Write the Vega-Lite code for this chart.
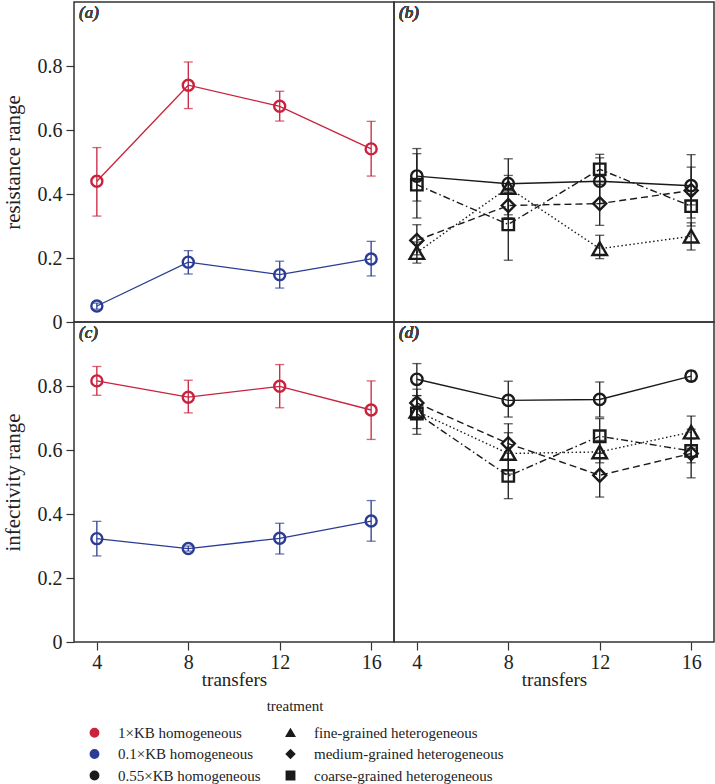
{
  "$schema": "https://vega.github.io/schema/vega-lite/v6.json",
  "background": "white",
  "padding": {"left": 1, "top": 1, "right": 0, "bottom": 0},
  "columns": 2,
  "spacing": 0,
  "bounds": "flush",
  "data": {"values": [
    {"panel":"a","treatment":"1×KB homogeneous","transfers":4,"mean":0.44,"lo":0.331,"hi":0.545},
    {"panel":"a","treatment":"1×KB homogeneous","transfers":8,"mean":0.74,"lo":0.667,"hi":0.8125},
    {"panel":"a","treatment":"1×KB homogeneous","transfers":12,"mean":0.674,"lo":0.628,"hi":0.721},
    {"panel":"a","treatment":"1×KB homogeneous","transfers":16,"mean":0.541,"lo":0.456,"hi":0.627},
    {"panel":"a","treatment":"0.1×KB homogeneous","transfers":4,"mean":0.05,"lo":0.04,"hi":0.059},
    {"panel":"a","treatment":"0.1×KB homogeneous","transfers":8,"mean":0.187,"lo":0.15,"hi":0.223},
    {"panel":"a","treatment":"0.1×KB homogeneous","transfers":12,"mean":0.148,"lo":0.106,"hi":0.19},
    {"panel":"a","treatment":"0.1×KB homogeneous","transfers":16,"mean":0.197,"lo":0.144,"hi":0.252},
    {"panel":"b","treatment":"0.55×KB homogeneous","transfers":4,"mean":0.456,"lo":0.378,"hi":0.526},
    {"panel":"b","treatment":"0.55×KB homogeneous","transfers":8,"mean":0.432,"lo":0.41,"hi":0.458},
    {"panel":"b","treatment":"0.55×KB homogeneous","transfers":12,"mean":0.44,"lo":0.37,"hi":0.513},
    {"panel":"b","treatment":"0.55×KB homogeneous","transfers":16,"mean":0.426,"lo":0.366,"hi":0.484},
    {"panel":"b","treatment":"fine-grained heterogeneous","transfers":4,"mean":0.217,"lo":0.184,"hi":0.25},
    {"panel":"b","treatment":"fine-grained heterogeneous","transfers":8,"mean":0.42,"lo":0.335,"hi":0.51},
    {"panel":"b","treatment":"fine-grained heterogeneous","transfers":12,"mean":0.229,"lo":0.198,"hi":0.271},
    {"panel":"b","treatment":"fine-grained heterogeneous","transfers":16,"mean":0.268,"lo":0.225,"hi":0.31},
    {"panel":"b","treatment":"medium-grained heterogeneous","transfers":4,"mean":0.255,"lo":0.21,"hi":0.304},
    {"panel":"b","treatment":"medium-grained heterogeneous","transfers":8,"mean":0.364,"lo":0.325,"hi":0.405},
    {"panel":"b","treatment":"medium-grained heterogeneous","transfers":12,"mean":0.37,"lo":0.302,"hi":0.438},
    {"panel":"b","treatment":"medium-grained heterogeneous","transfers":16,"mean":0.411,"lo":0.3,"hi":0.523},
    {"panel":"b","treatment":"coarse-grained heterogeneous","transfers":4,"mean":0.429,"lo":0.325,"hi":0.542},
    {"panel":"b","treatment":"coarse-grained heterogeneous","transfers":8,"mean":0.305,"lo":0.193,"hi":0.417},
    {"panel":"b","treatment":"coarse-grained heterogeneous","transfers":12,"mean":0.477,"lo":0.43,"hi":0.524},
    {"panel":"b","treatment":"coarse-grained heterogeneous","transfers":16,"mean":0.362,"lo":0.325,"hi":0.4},
    {"panel":"c","treatment":"1×KB homogeneous","transfers":4,"mean":0.816,"lo":0.771,"hi":0.861},
    {"panel":"c","treatment":"1×KB homogeneous","transfers":8,"mean":0.765,"lo":0.716,"hi":0.818},
    {"panel":"c","treatment":"1×KB homogeneous","transfers":12,"mean":0.799,"lo":0.732,"hi":0.867},
    {"panel":"c","treatment":"1×KB homogeneous","transfers":16,"mean":0.725,"lo":0.633,"hi":0.816},
    {"panel":"c","treatment":"0.1×KB homogeneous","transfers":4,"mean":0.323,"lo":0.269,"hi":0.377},
    {"panel":"c","treatment":"0.1×KB homogeneous","transfers":8,"mean":0.292,"lo":0.284,"hi":0.3},
    {"panel":"c","treatment":"0.1×KB homogeneous","transfers":12,"mean":0.324,"lo":0.275,"hi":0.371},
    {"panel":"c","treatment":"0.1×KB homogeneous","transfers":16,"mean":0.378,"lo":0.315,"hi":0.442},
    {"panel":"d","treatment":"0.55×KB homogeneous","transfers":4,"mean":0.821,"lo":0.77,"hi":0.87},
    {"panel":"d","treatment":"0.55×KB homogeneous","transfers":8,"mean":0.755,"lo":0.703,"hi":0.815},
    {"panel":"d","treatment":"0.55×KB homogeneous","transfers":12,"mean":0.758,"lo":0.703,"hi":0.8125},
    {"panel":"d","treatment":"0.55×KB homogeneous","transfers":16,"mean":0.831,"lo":0.815,"hi":0.847},
    {"panel":"d","treatment":"fine-grained heterogeneous","transfers":4,"mean":0.721,"lo":0.667,"hi":0.77},
    {"panel":"d","treatment":"fine-grained heterogeneous","transfers":8,"mean":0.589,"lo":0.525,"hi":0.654},
    {"panel":"d","treatment":"fine-grained heterogeneous","transfers":12,"mean":0.594,"lo":0.56,"hi":0.63},
    {"panel":"d","treatment":"fine-grained heterogeneous","transfers":16,"mean":0.656,"lo":0.605,"hi":0.706},
    {"panel":"d","treatment":"medium-grained heterogeneous","transfers":4,"mean":0.747,"lo":0.7,"hi":0.79},
    {"panel":"d","treatment":"medium-grained heterogeneous","transfers":8,"mean":0.62,"lo":0.57,"hi":0.682},
    {"panel":"d","treatment":"medium-grained heterogeneous","transfers":12,"mean":0.521,"lo":0.453,"hi":0.59},
    {"panel":"d","treatment":"medium-grained heterogeneous","transfers":16,"mean":0.589,"lo":0.513,"hi":0.665},
    {"panel":"d","treatment":"coarse-grained heterogeneous","transfers":4,"mean":0.714,"lo":0.649,"hi":0.76},
    {"panel":"d","treatment":"coarse-grained heterogeneous","transfers":8,"mean":0.519,"lo":0.448,"hi":0.59},
    {"panel":"d","treatment":"coarse-grained heterogeneous","transfers":12,"mean":0.643,"lo":0.59,"hi":0.698},
    {"panel":"d","treatment":"coarse-grained heterogeneous","transfers":16,"mean":0.597,"lo":0.56,"hi":0.635}
  ]},
  "concat": [
    {
      "width": 320, "height": 320,
      "transform": [{"filter": "datum.panel === 'a'"}],
      "encoding": {"x": {"field": "transfers", "type": "quantitative", "scale": {"domain": [3, 17], "nice": false, "zero": false}, "axis": null}},
      "layer": [
        {"mark": {"type": "point", "size": 121, "filled": false, "strokeWidth": 2.4, "opacity": 1},
         "encoding": {
           "y": {"field": "mean", "type": "quantitative", "scale": {"domain": [0, 1], "nice": false}, "axis": {"title": "resistance range", "values": [0, 0.2, 0.4, 0.6, 0.8], "format": "~g"}},
           "color": {"field": "treatment", "type": "nominal", "scale": {"domain": ["1×KB homogeneous","0.1×KB homogeneous","0.55×KB homogeneous","fine-grained heterogeneous","medium-grained heterogeneous","coarse-grained heterogeneous"], "range": ["#c9223d","#2b3c94","#1a1a1a","#1a1a1a","#1a1a1a","#1a1a1a"]},
             "legend": {"title": "treatment", "orient": "none", "legendX": 13, "legendY": 697, "direction": "vertical", "columns": 2, "symbolSize": 70, "symbolStrokeWidth": 1.5, "symbolOpacity": 1, "labelOffset": 16, "labelLimit": 0, "columnPadding": 22, "rowPadding": 5.5, "titleAnchor": "middle", "titlePadding": 11,
               "encode": {"symbols": {
                 "fill": {"value": "transparent"},
                 "strokeWidth": {"value": 1.5},
                 "opacity": {"value": 1}
               }}}},
           "shape": {"field": "treatment", "type": "nominal", "scale": {"domain": ["1×KB homogeneous","0.1×KB homogeneous","0.55×KB homogeneous","fine-grained heterogeneous","medium-grained heterogeneous","coarse-grained heterogeneous"], "range": ["circle","circle","circle","triangle-up","diamond","square"]}}}},
        {"mark": {"type": "errorbar", "ticks": {"size": 9}, "thickness": 1.3},
         "encoding": {
           "y": {"field": "lo", "type": "quantitative", "scale": {"domain": [0, 1], "nice": false}, "axis": {"title": "resistance range", "values": [0, 0.2, 0.4, 0.6, 0.8], "format": "~g"}},
           "y2": {"field": "hi"},
           "color": {"field": "treatment", "type": "nominal", "scale": {"domain": ["1×KB homogeneous","0.1×KB homogeneous","0.55×KB homogeneous","fine-grained heterogeneous","medium-grained heterogeneous","coarse-grained heterogeneous"], "range": ["#c9223d","#2b3c94","#1a1a1a","#1a1a1a","#1a1a1a","#1a1a1a"]}}}},
        {"mark": {"type": "line", "strokeWidth": 1.3},
         "encoding": {
           "y": {"field": "mean", "type": "quantitative", "scale": {"domain": [0, 1], "nice": false}, "axis": {"title": "resistance range", "values": [0, 0.2, 0.4, 0.6, 0.8], "format": "~g"}},
           "color": {"field": "treatment", "type": "nominal", "scale": {"domain": ["1×KB homogeneous","0.1×KB homogeneous","0.55×KB homogeneous","fine-grained heterogeneous","medium-grained heterogeneous","coarse-grained heterogeneous"], "range": ["#c9223d","#2b3c94","#1a1a1a","#1a1a1a","#1a1a1a","#1a1a1a"]}}}},
        {"mark": {"type": "text", "align": "left", "baseline": "top", "dx": 5, "dy": 3, "font": "Liberation Serif", "fontSize": 17, "fontStyle": "italic", "fontWeight": "normal", "color": "#444444"},
         "encoding": {"x": {"datum": 3}, "y": {"datum": 1, "type": "quantitative", "axis": {"title": "resistance range", "values": [0, 0.2, 0.4, 0.6, 0.8], "format": "~g"}}, "text": {"value": "(a)"}}}
      ]
    },
    {
      "width": 320, "height": 320,
      "transform": [{"filter": "datum.panel === 'b'"}],
      "encoding": {"x": {"field": "transfers", "type": "quantitative", "scale": {"domain": [3, 17], "nice": false, "zero": false}, "axis": null}},
      "layer": [
        {"mark": {"type": "errorbar", "ticks": {"size": 9}, "thickness": 1.3},
         "encoding": {
           "y": {"field": "lo", "type": "quantitative", "scale": {"domain": [0, 1], "nice": false}, "axis": null},
           "y2": {"field": "hi"},
           "color": {"field": "treatment", "type": "nominal", "scale": {"domain": ["1×KB homogeneous","0.1×KB homogeneous","0.55×KB homogeneous","fine-grained heterogeneous","medium-grained heterogeneous","coarse-grained heterogeneous"], "range": ["#c9223d","#2b3c94","#1a1a1a","#1a1a1a","#1a1a1a","#1a1a1a"]}}}},
        {"transform": [{"filter": "datum.treatment === '0.55×KB homogeneous'"}], "mark": {"type": "line", "strokeWidth": 1.4, "color": "#1a1a1a"},
         "encoding": {"y": {"field": "mean", "type": "quantitative", "scale": {"domain": [0, 1], "nice": false}, "axis": null}}},
        {"transform": [{"filter": "datum.treatment === 'fine-grained heterogeneous'"}], "mark": {"type": "line", "strokeWidth": 1.4, "color": "#1a1a1a", "strokeDash": [1.5, 2.5]},
         "encoding": {"y": {"field": "mean", "type": "quantitative", "scale": {"domain": [0, 1], "nice": false}, "axis": null}}},
        {"transform": [{"filter": "datum.treatment === 'medium-grained heterogeneous'"}], "mark": {"type": "line", "strokeWidth": 1.4, "color": "#1a1a1a", "strokeDash": [7, 4]},
         "encoding": {"y": {"field": "mean", "type": "quantitative", "scale": {"domain": [0, 1], "nice": false}, "axis": null}}},
        {"transform": [{"filter": "datum.treatment === 'coarse-grained heterogeneous'"}], "mark": {"type": "line", "strokeWidth": 1.4, "color": "#1a1a1a", "strokeDash": [7, 3, 1.5, 3]},
         "encoding": {"y": {"field": "mean", "type": "quantitative", "scale": {"domain": [0, 1], "nice": false}, "axis": null}}},
        {"transform": [{"filter": "datum.treatment === '0.55×KB homogeneous'"}], "mark": {"type": "point", "size": 130, "filled": false, "strokeWidth": 2.4, "opacity": 1, "color": "#1a1a1a"},
         "encoding": {"y": {"field": "mean", "type": "quantitative", "scale": {"domain": [0, 1], "nice": false}, "axis": null},
           "shape": {"field": "treatment", "type": "nominal", "scale": {"domain": ["1×KB homogeneous","0.1×KB homogeneous","0.55×KB homogeneous","fine-grained heterogeneous","medium-grained heterogeneous","coarse-grained heterogeneous"], "range": ["circle","circle","circle","triangle-up","diamond","square"]}}}},
        {"transform": [{"filter": "datum.treatment === 'fine-grained heterogeneous'"}], "mark": {"type": "point", "size": 210, "filled": false, "strokeWidth": 2.4, "opacity": 1, "color": "#1a1a1a"},
         "encoding": {"y": {"field": "mean", "type": "quantitative", "scale": {"domain": [0, 1], "nice": false}, "axis": null},
           "shape": {"field": "treatment", "type": "nominal", "scale": {"domain": ["1×KB homogeneous","0.1×KB homogeneous","0.55×KB homogeneous","fine-grained heterogeneous","medium-grained heterogeneous","coarse-grained heterogeneous"], "range": ["circle","circle","circle","triangle-up","diamond","square"]}}}},
        {"transform": [{"filter": "datum.treatment === 'medium-grained heterogeneous'"}], "mark": {"type": "point", "size": 170, "filled": false, "strokeWidth": 2.4, "opacity": 1, "color": "#1a1a1a"},
         "encoding": {"y": {"field": "mean", "type": "quantitative", "scale": {"domain": [0, 1], "nice": false}, "axis": null},
           "shape": {"field": "treatment", "type": "nominal", "scale": {"domain": ["1×KB homogeneous","0.1×KB homogeneous","0.55×KB homogeneous","fine-grained heterogeneous","medium-grained heterogeneous","coarse-grained heterogeneous"], "range": ["circle","circle","circle","triangle-up","diamond","square"]}}}},
        {"transform": [{"filter": "datum.treatment === 'coarse-grained heterogeneous'"}], "mark": {"type": "point", "size": 130, "filled": false, "strokeWidth": 2.4, "opacity": 1, "color": "#1a1a1a"},
         "encoding": {"y": {"field": "mean", "type": "quantitative", "scale": {"domain": [0, 1], "nice": false}, "axis": null},
           "shape": {"field": "treatment", "type": "nominal", "scale": {"domain": ["1×KB homogeneous","0.1×KB homogeneous","0.55×KB homogeneous","fine-grained heterogeneous","medium-grained heterogeneous","coarse-grained heterogeneous"], "range": ["circle","circle","circle","triangle-up","diamond","square"]}}}},
        {"mark": {"type": "text", "align": "left", "baseline": "top", "dx": 5, "dy": 3, "font": "Liberation Serif", "fontSize": 17, "fontStyle": "italic", "fontWeight": "normal", "color": "#444444"},
         "encoding": {"x": {"datum": 3}, "y": {"datum": 1, "type": "quantitative", "axis": null}, "text": {"value": "(b)"}}}
      ]
    },
    {
      "width": 320, "height": 320,
      "transform": [{"filter": "datum.panel === 'c'"}],
      "encoding": {"x": {"field": "transfers", "type": "quantitative", "scale": {"domain": [3, 17], "nice": false, "zero": false}, "axis": {"title": "transfers", "values": [4, 8, 12, 16]}}},
      "layer": [
        {"mark": {"type": "errorbar", "ticks": {"size": 9}, "thickness": 1.3},
         "encoding": {
           "y": {"field": "lo", "type": "quantitative", "scale": {"domain": [0, 1], "nice": false}, "axis": {"title": "infectivity range", "values": [0, 0.2, 0.4, 0.6, 0.8], "format": "~g"}},
           "y2": {"field": "hi"},
           "color": {"field": "treatment", "type": "nominal", "scale": {"domain": ["1×KB homogeneous","0.1×KB homogeneous","0.55×KB homogeneous","fine-grained heterogeneous","medium-grained heterogeneous","coarse-grained heterogeneous"], "range": ["#c9223d","#2b3c94","#1a1a1a","#1a1a1a","#1a1a1a","#1a1a1a"]}}}},
        {"mark": {"type": "line", "strokeWidth": 1.3},
         "encoding": {
           "y": {"field": "mean", "type": "quantitative", "scale": {"domain": [0, 1], "nice": false}, "axis": {"title": "infectivity range", "values": [0, 0.2, 0.4, 0.6, 0.8], "format": "~g"}},
           "color": {"field": "treatment", "type": "nominal", "scale": {"domain": ["1×KB homogeneous","0.1×KB homogeneous","0.55×KB homogeneous","fine-grained heterogeneous","medium-grained heterogeneous","coarse-grained heterogeneous"], "range": ["#c9223d","#2b3c94","#1a1a1a","#1a1a1a","#1a1a1a","#1a1a1a"]}}}},
        {"mark": {"type": "point", "size": 121, "filled": false, "strokeWidth": 2.4, "opacity": 1},
         "encoding": {
           "y": {"field": "mean", "type": "quantitative", "scale": {"domain": [0, 1], "nice": false}, "axis": {"title": "infectivity range", "values": [0, 0.2, 0.4, 0.6, 0.8], "format": "~g"}},
           "color": {"field": "treatment", "type": "nominal", "scale": {"domain": ["1×KB homogeneous","0.1×KB homogeneous","0.55×KB homogeneous","fine-grained heterogeneous","medium-grained heterogeneous","coarse-grained heterogeneous"], "range": ["#c9223d","#2b3c94","#1a1a1a","#1a1a1a","#1a1a1a","#1a1a1a"]}},
           "shape": {"field": "treatment", "type": "nominal", "scale": {"domain": ["1×KB homogeneous","0.1×KB homogeneous","0.55×KB homogeneous","fine-grained heterogeneous","medium-grained heterogeneous","coarse-grained heterogeneous"], "range": ["circle","circle","circle","triangle-up","diamond","square"]}}}},
        {"mark": {"type": "text", "align": "left", "baseline": "top", "dx": 5, "dy": 3, "font": "Liberation Serif", "fontSize": 17, "fontStyle": "italic", "fontWeight": "normal", "color": "#444444"},
         "encoding": {"x": {"datum": 3}, "y": {"datum": 1, "type": "quantitative", "axis": {"title": "infectivity range", "values": [0, 0.2, 0.4, 0.6, 0.8], "format": "~g"}}, "text": {"value": "(c)"}}}
      ]
    },
    {
      "width": 320, "height": 320,
      "transform": [{"filter": "datum.panel === 'd'"}],
      "encoding": {"x": {"field": "transfers", "type": "quantitative", "scale": {"domain": [3, 17], "nice": false, "zero": false}, "axis": {"title": "transfers", "values": [4, 8, 12, 16]}}},
      "layer": [
        {"mark": {"type": "errorbar", "ticks": {"size": 9}, "thickness": 1.3},
         "encoding": {
           "y": {"field": "lo", "type": "quantitative", "scale": {"domain": [0, 1], "nice": false}, "axis": null},
           "y2": {"field": "hi"},
           "color": {"field": "treatment", "type": "nominal", "scale": {"domain": ["1×KB homogeneous","0.1×KB homogeneous","0.55×KB homogeneous","fine-grained heterogeneous","medium-grained heterogeneous","coarse-grained heterogeneous"], "range": ["#c9223d","#2b3c94","#1a1a1a","#1a1a1a","#1a1a1a","#1a1a1a"]}}}},
        {"transform": [{"filter": "datum.treatment === '0.55×KB homogeneous'"}], "mark": {"type": "line", "strokeWidth": 1.4, "color": "#1a1a1a"},
         "encoding": {"y": {"field": "mean", "type": "quantitative", "scale": {"domain": [0, 1], "nice": false}, "axis": null}}},
        {"transform": [{"filter": "datum.treatment === 'fine-grained heterogeneous'"}], "mark": {"type": "line", "strokeWidth": 1.4, "color": "#1a1a1a", "strokeDash": [1.5, 2.5]},
         "encoding": {"y": {"field": "mean", "type": "quantitative", "scale": {"domain": [0, 1], "nice": false}, "axis": null}}},
        {"transform": [{"filter": "datum.treatment === 'medium-grained heterogeneous'"}], "mark": {"type": "line", "strokeWidth": 1.4, "color": "#1a1a1a", "strokeDash": [7, 4]},
         "encoding": {"y": {"field": "mean", "type": "quantitative", "scale": {"domain": [0, 1], "nice": false}, "axis": null}}},
        {"transform": [{"filter": "datum.treatment === 'coarse-grained heterogeneous'"}], "mark": {"type": "line", "strokeWidth": 1.4, "color": "#1a1a1a", "strokeDash": [7, 3, 1.5, 3]},
         "encoding": {"y": {"field": "mean", "type": "quantitative", "scale": {"domain": [0, 1], "nice": false}, "axis": null}}},
        {"transform": [{"filter": "datum.treatment === '0.55×KB homogeneous'"}], "mark": {"type": "point", "size": 130, "filled": false, "strokeWidth": 2.4, "opacity": 1, "color": "#1a1a1a"},
         "encoding": {"y": {"field": "mean", "type": "quantitative", "scale": {"domain": [0, 1], "nice": false}, "axis": null},
           "shape": {"field": "treatment", "type": "nominal", "scale": {"domain": ["1×KB homogeneous","0.1×KB homogeneous","0.55×KB homogeneous","fine-grained heterogeneous","medium-grained heterogeneous","coarse-grained heterogeneous"], "range": ["circle","circle","circle","triangle-up","diamond","square"]}}}},
        {"transform": [{"filter": "datum.treatment === 'fine-grained heterogeneous'"}], "mark": {"type": "point", "size": 210, "filled": false, "strokeWidth": 2.4, "opacity": 1, "color": "#1a1a1a"},
         "encoding": {"y": {"field": "mean", "type": "quantitative", "scale": {"domain": [0, 1], "nice": false}, "axis": null},
           "shape": {"field": "treatment", "type": "nominal", "scale": {"domain": ["1×KB homogeneous","0.1×KB homogeneous","0.55×KB homogeneous","fine-grained heterogeneous","medium-grained heterogeneous","coarse-grained heterogeneous"], "range": ["circle","circle","circle","triangle-up","diamond","square"]}}}},
        {"transform": [{"filter": "datum.treatment === 'medium-grained heterogeneous'"}], "mark": {"type": "point", "size": 170, "filled": false, "strokeWidth": 2.4, "opacity": 1, "color": "#1a1a1a"},
         "encoding": {"y": {"field": "mean", "type": "quantitative", "scale": {"domain": [0, 1], "nice": false}, "axis": null},
           "shape": {"field": "treatment", "type": "nominal", "scale": {"domain": ["1×KB homogeneous","0.1×KB homogeneous","0.55×KB homogeneous","fine-grained heterogeneous","medium-grained heterogeneous","coarse-grained heterogeneous"], "range": ["circle","circle","circle","triangle-up","diamond","square"]}}}},
        {"transform": [{"filter": "datum.treatment === 'coarse-grained heterogeneous'"}], "mark": {"type": "point", "size": 130, "filled": false, "strokeWidth": 2.4, "opacity": 1, "color": "#1a1a1a"},
         "encoding": {"y": {"field": "mean", "type": "quantitative", "scale": {"domain": [0, 1], "nice": false}, "axis": null},
           "shape": {"field": "treatment", "type": "nominal", "scale": {"domain": ["1×KB homogeneous","0.1×KB homogeneous","0.55×KB homogeneous","fine-grained heterogeneous","medium-grained heterogeneous","coarse-grained heterogeneous"], "range": ["circle","circle","circle","triangle-up","diamond","square"]}}}},
        {"mark": {"type": "text", "align": "left", "baseline": "top", "dx": 5, "dy": 3, "font": "Liberation Serif", "fontSize": 17, "fontStyle": "italic", "fontWeight": "normal", "color": "#444444"},
         "encoding": {"x": {"datum": 3}, "y": {"datum": 1, "type": "quantitative", "axis": null}, "text": {"value": "(d)"}}}
      ]
    }
  ],
  "config": {
    "view": {"stroke": "#333333", "strokeWidth": 1.5},
    "axis": {"labelFont": "Liberation Serif", "titleFont": "Liberation Serif", "labelFontSize": 20, "titleFontSize": 19, "titleFontWeight": "normal", "labelColor": "#222222", "titleColor": "#222222", "tickColor": "#333333", "tickSize": 8, "tickWidth": 1.2, "domain": false, "grid": false, "labelPadding": 4},
    "axisY": {"titlePadding": 14, "titleFontSize": 21},
    "axisX": {"titlePadding": -2, "labelPadding": 2},
    "legend": {"labelFont": "Liberation Serif", "titleFont": "Liberation Serif", "labelFontSize": 15, "titleFontSize": 15, "titleFontWeight": "normal", "labelColor": "#222222", "titleColor": "#222222"}
  }
}
